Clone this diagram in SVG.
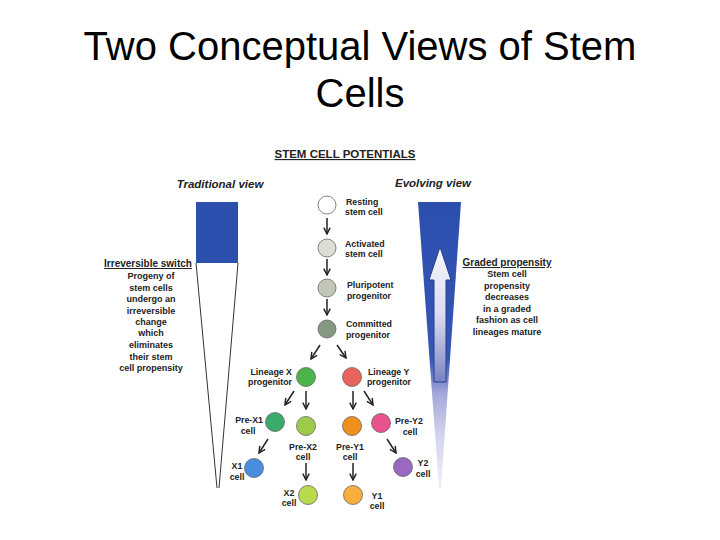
<svg xmlns="http://www.w3.org/2000/svg" width="720" height="540" viewBox="0 0 720 540">
<style>
.title{font-family:"Liberation Sans",Arial,sans-serif;font-size:40px;fill:#000;text-anchor:middle}
.hdr{font-family:"Liberation Sans",Arial,sans-serif;font-size:11.5px;font-weight:bold;fill:#222;text-anchor:middle;text-decoration:underline}
.view{font-family:"Liberation Sans",Arial,sans-serif;font-size:11.5px;font-weight:bold;font-style:italic;fill:#222;text-anchor:middle}
.side{font-family:"Liberation Sans",Arial,sans-serif;font-size:9px;font-weight:bold;fill:#222;text-anchor:middle}
.ul{text-decoration:underline;font-size:10px}
.lbl{font-family:"Liberation Sans",Arial,sans-serif;font-size:8.8px;font-weight:bold;fill:#222}
.mid{text-anchor:middle}
.end{text-anchor:end}
.cell{stroke:#666;stroke-width:0.8}
.conn line{stroke:#222;stroke-width:1.5;marker-end:url(#arr)}
</style>
<defs>
<marker id="arr" viewBox="0 0 10 10" refX="9" refY="5" markerWidth="8" markerHeight="8" orient="auto" markerUnits="userSpaceOnUse">
<path d="M1,1 L9,5 L1,9" fill="none" stroke="#222" stroke-width="1.8"/>
</marker>
<linearGradient id="wedge" x1="0" y1="0" x2="0" y2="1">
<stop offset="0" stop-color="#2c4fae"/>
<stop offset="0.55" stop-color="#3755b6"/>
<stop offset="0.67" stop-color="#a4a8da"/>
<stop offset="0.82" stop-color="#d4d4ee"/>
<stop offset="1" stop-color="#f0f0f8"/>
</linearGradient>
<linearGradient id="arrowfill" x1="0" y1="0" x2="0" y2="1">
<stop offset="0" stop-color="#f6f6fc"/>
<stop offset="0.5" stop-color="#dcdcf0"/>
<stop offset="1" stop-color="#7a82c4"/>
</linearGradient>
</defs>
<rect width="720" height="540" fill="#fff"/>
<text class="title" x="360" y="60">Two Conceptual Views of Stem</text>
<text class="title" x="360" y="107">Cells</text>
<text class="hdr" x="345" y="158">STEM CELL POTENTIALS</text>

<g id="traditional">
<text class="view" x="220" y="188">Traditional view</text>
<rect x="196" y="202" width="42" height="61" fill="#2d4fae"/>
<path d="M196,263 L217,488 M238,263 L219,488" stroke="#333" stroke-width="1" fill="none"/>
<text class="side ul" x="148" y="267">Irreversible switch</text>
<text class="side" x="151" y="279">Progeny of</text>
<text class="side" x="151" y="291">stem cells</text>
<text class="side" x="151" y="302">undergo an</text>
<text class="side" x="151" y="314">irreversible</text>
<text class="side" x="151" y="325">change</text>
<text class="side" x="151" y="336">which</text>
<text class="side" x="151" y="348">eliminates</text>
<text class="side" x="151" y="360">their stem</text>
<text class="side" x="151" y="371">cell propensity</text>
</g>

<g id="evolving">
<text class="view" x="433" y="187">Evolving view</text>
<polygon points="418,202 461,202 441,488 439,488" fill="url(#wedge)"/>
<polygon points="440,247 451,280 446,280 446,382 434,382 434,280 429,280" fill="url(#arrowfill)" stroke="#23408e" stroke-width="1"/>
<text class="side ul" x="507" y="266">Graded propensity</text>
<text class="side" x="507" y="277">Stem cell</text>
<text class="side" x="507" y="289">propensity</text>
<text class="side" x="507" y="300">decreases</text>
<text class="side" x="507" y="312">in a graded</text>
<text class="side" x="507" y="323">fashion as cell</text>
<text class="side" x="507" y="335">lineages mature</text>
</g>

<g class="conn" id="connectors">
<line x1="327" y1="218" x2="327" y2="234"/>
<line x1="327" y1="259" x2="327" y2="275"/>
<line x1="327" y1="299" x2="327" y2="315"/>
<line x1="320" y1="345" x2="311" y2="359"/>
<line x1="337" y1="345" x2="346" y2="358"/>
<line x1="294" y1="391" x2="285" y2="405"/>
<line x1="306" y1="391" x2="306" y2="409"/>
<line x1="353" y1="391" x2="353" y2="409"/>
<line x1="364" y1="391" x2="373" y2="405"/>
<line x1="268" y1="439" x2="259" y2="453"/>
<line x1="306" y1="463" x2="306" y2="480"/>
<line x1="353" y1="463" x2="353" y2="480"/>
<line x1="387" y1="439" x2="396" y2="453"/>
</g>

<g id="resting">
<circle class="cell" cx="327" cy="205" r="9" fill="#ffffff"/>
<text class="lbl" x="346" y="205">Resting</text>
<text class="lbl" x="345" y="215">stem cell</text>
</g>
<g id="activated">
<circle class="cell" cx="327" cy="248" r="9" fill="#dcddd5"/>
<text class="lbl" x="345" y="247">Activated</text>
<text class="lbl" x="345" y="257">stem cell</text>
</g>
<g id="pluripotent">
<circle class="cell" cx="327" cy="288" r="9" fill="#c3c7ba"/>
<text class="lbl" x="347" y="288">Pluripotent</text>
<text class="lbl" x="347" y="299">progenitor</text>
</g>
<g id="committed">
<circle class="cell" cx="327" cy="329" r="9" fill="#849a80"/>
<text class="lbl" x="346" y="327">Committed</text>
<text class="lbl" x="346" y="338">progenitor</text>
</g>
<g id="lineageX">
<circle class="cell" cx="306" cy="377" r="9.5" fill="#4cb54a"/>
<text class="lbl end" x="292" y="375">Lineage X</text>
<text class="lbl end" x="292" y="385">progenitor</text>
</g>
<g id="lineageY">
<circle class="cell" cx="352" cy="377" r="9.5" fill="#ea635c"/>
<text class="lbl" x="368" y="375">Lineage Y</text>
<text class="lbl" x="367" y="385">progenitor</text>
</g>
<g id="preX1">
<circle class="cell" cx="275" cy="422" r="9.5" fill="#3aab6a"/>
<text class="lbl end" x="263" y="423">Pre-X1</text>
<text class="lbl mid" x="248" y="434">cell</text>
</g>
<g id="preX2">
<circle class="cell" cx="306" cy="426" r="9.5" fill="#9ccb4a"/>
<text class="lbl mid" x="303" y="450">Pre-X2</text>
<text class="lbl mid" x="303" y="460">cell</text>
</g>
<g id="preY1">
<circle class="cell" cx="352" cy="426" r="9.5" fill="#f0901c"/>
<text class="lbl mid" x="350" y="450">Pre-Y1</text>
<text class="lbl mid" x="350" y="460">cell</text>
</g>
<g id="preY2">
<circle class="cell" cx="381" cy="423" r="9.5" fill="#e9528c"/>
<text class="lbl" x="395" y="424">Pre-Y2</text>
<text class="lbl mid" x="410" y="435">cell</text>
</g>
<g id="X1">
<circle class="cell" cx="254" cy="468" r="9.5" fill="#4a8ce0"/>
<text class="lbl mid" x="237" y="469">X1</text>
<text class="lbl mid" x="237" y="480">cell</text>
</g>
<g id="X2">
<circle class="cell" cx="308" cy="495" r="9.5" fill="#b8da4c"/>
<text class="lbl mid" x="289" y="496">X2</text>
<text class="lbl mid" x="289" y="506">cell</text>
</g>
<g id="Y1">
<circle class="cell" cx="353" cy="495" r="9.5" fill="#f7b040"/>
<text class="lbl mid" x="377" y="499">Y1</text>
<text class="lbl mid" x="377" y="509">cell</text>
</g>
<g id="Y2">
<circle class="cell" cx="403" cy="467" r="9.5" fill="#9a68c0"/>
<text class="lbl mid" x="423" y="466">Y2</text>
<text class="lbl mid" x="423" y="477">cell</text>
</g>
</svg>
